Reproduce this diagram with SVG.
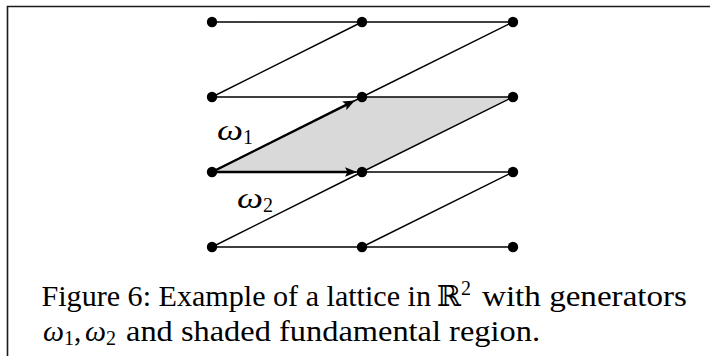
<svg xmlns="http://www.w3.org/2000/svg" width="710" height="356" viewBox="0 0 710 356">
<style>
.frame{fill:none;stroke:#1a1a1a;stroke-width:1.6}
.edge{stroke:#000;stroke-width:1.4;fill:none;stroke-linecap:round}
.vec{stroke:#000;stroke-width:2.4;fill:none}
.pt{fill:#000}
.cell{fill:#d9d9d9;stroke:none}
.lbl{font-family:"Liberation Serif","DejaVu Serif",serif;fill:#000;font-size:30px}
.w{font-style:italic}
.cap{font-family:"Liberation Serif","DejaVu Serif",serif;font-size:29px;fill:#000}
</style>
<defs>
<marker id="ah" markerUnits="userSpaceOnUse" markerWidth="13" markerHeight="10" refX="5" refY="4.75" orient="auto">
<path d="M0,0 L12,4.75 L0,9.5 L2.5,4.75 Z" fill="#000"/>
</marker>
</defs>
<rect width="710" height="356" fill="#fff"/>
<path class="frame" d="M7.5,356 L7.5,6.5 L710,6.5"/>
<g id="fundamental-region">
<polygon class="cell" points="212,172 362,172 513,97 362,97"/>
</g>
<g id="connectors">
<line class="edge" x1="212" y1="22" x2="513" y2="22"/>
<line class="edge" x1="212" y1="97" x2="513" y2="97"/>
<line class="edge" x1="212" y1="172" x2="513" y2="172"/>
<line class="edge" x1="212" y1="247" x2="513" y2="247"/>
<line class="edge" x1="212" y1="97" x2="362" y2="22"/>
<line class="edge" x1="362" y1="97" x2="513" y2="22"/>
<line class="edge" x1="212" y1="172" x2="362" y2="97"/>
<line class="edge" x1="362" y1="172" x2="513" y2="97"/>
<line class="edge" x1="212" y1="247" x2="362" y2="172"/>
<line class="edge" x1="362" y1="247" x2="513" y2="172"/>
<line id="omega1" class="vec" x1="212" y1="172" x2="348.7" y2="103.6" marker-end="url(#ah)"/>
<line id="omega2" class="vec" x1="212" y1="172" x2="350" y2="172" marker-end="url(#ah)"/>
</g>
<g id="p00"><circle class="pt" cx="212" cy="22" r="5.2"/></g>
<g id="p01"><circle class="pt" cx="362" cy="22" r="5.2"/></g>
<g id="p02"><circle class="pt" cx="513" cy="22" r="5.2"/></g>
<g id="p10"><circle class="pt" cx="212" cy="97" r="5.2"/></g>
<g id="p11"><circle class="pt" cx="362" cy="97" r="5.2"/></g>
<g id="p12"><circle class="pt" cx="513" cy="97" r="5.2"/></g>
<g id="p20"><circle class="pt" cx="212" cy="172" r="5.2"/></g>
<g id="p21"><circle class="pt" cx="362" cy="172" r="5.2"/></g>
<g id="p22"><circle class="pt" cx="513" cy="172" r="5.2"/></g>
<g id="p30"><circle class="pt" cx="212" cy="247" r="5.2"/></g>
<g id="p31"><circle class="pt" cx="362" cy="247" r="5.2"/></g>
<g id="p32"><circle class="pt" cx="513" cy="247" r="5.2"/></g>
<g id="label-omega1">
<text class="lbl" x="217" y="140"><tspan class="w" textLength="26" lengthAdjust="spacingAndGlyphs">ω</tspan><tspan font-size="20" dy="4">1</tspan></text>
</g>
<g id="label-omega2">
<text class="lbl" x="237" y="208"><tspan class="w" textLength="26" lengthAdjust="spacingAndGlyphs">ω</tspan><tspan font-size="20" dy="4">2</tspan></text>
</g>
<g id="caption">
<text class="cap" x="41.5" y="306"><tspan x="41.5" textLength="389.5" lengthAdjust="spacingAndGlyphs">Figure 6: Example of a lattice in</tspan> <tspan x="437">ℝ</tspan><tspan font-size="20" dy="-11">2</tspan><tspan x="482" dy="11" textLength="205" lengthAdjust="spacingAndGlyphs">with generators</tspan></text>
<text class="cap" x="43" y="341"><tspan class="w" textLength="21" lengthAdjust="spacingAndGlyphs">ω</tspan><tspan font-size="20" dy="4">1</tspan><tspan dy="-4">,</tspan><tspan x="85" class="w" textLength="21" lengthAdjust="spacingAndGlyphs">ω</tspan><tspan font-size="20" dy="4">2</tspan><tspan x="126" dy="-4" textLength="414" lengthAdjust="spacingAndGlyphs">and shaded fundamental region.</tspan></text>
</g>
</svg>
